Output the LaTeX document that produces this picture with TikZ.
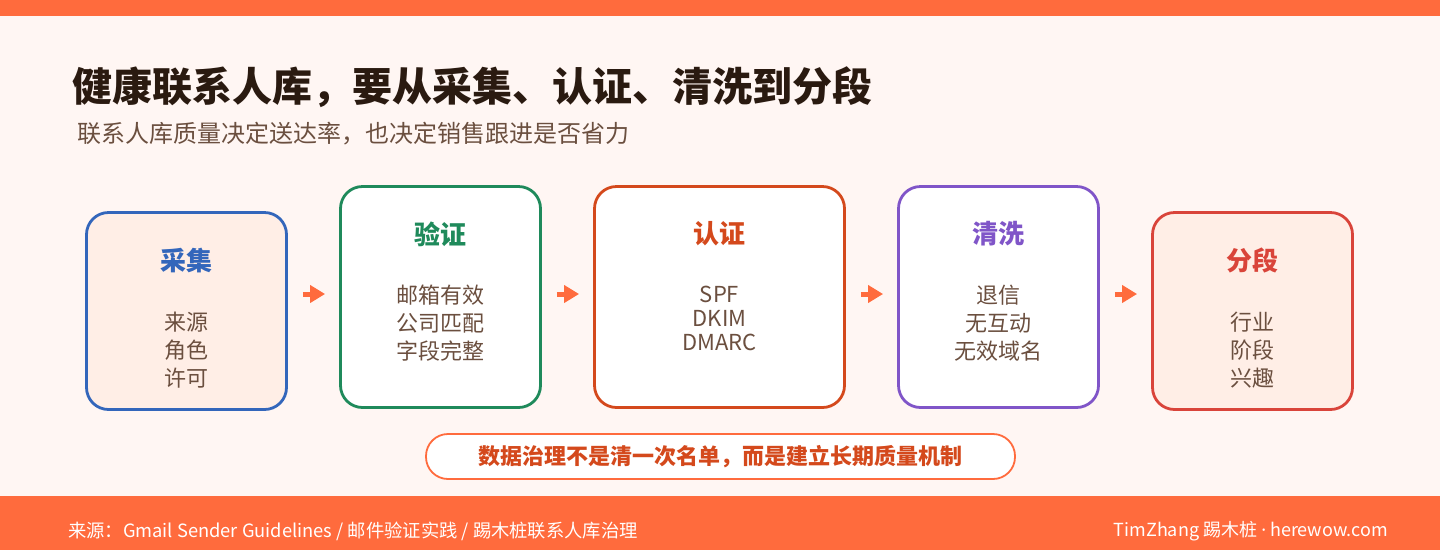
\documentclass[tikz,border=0pt]{standalone}
\usepackage{fontspec}
\setmainfont{Noto Sans CJK SC}
\newfontfamily\latinfont{Noto Sans}
\usetikzlibrary{positioning,arrows.meta}
\definecolor{bar}{HTML}{FF6B3D}
\definecolor{paper}{HTML}{FFF6F3}
\definecolor{peach}{HTML}{FFEEE6}
\definecolor{ink}{HTML}{2A1A10}
\definecolor{soft}{HTML}{6B4F3F}
\definecolor{cblue}{HTML}{3366BB}
\definecolor{cgreen}{HTML}{1F8A5B}
\definecolor{crust}{HTML}{D4491C}
\definecolor{cpurple}{HTML}{8055C8}
\definecolor{cred}{HTML}{D9443A}
\begin{document}
\begin{tikzpicture}[x=1pt,y=-1pt, line join=round,
		stage/.style={draw=#1,line width=2.8pt,rounded corners=22pt,minimum width=200pt,inner sep=0pt},
		head/.style={text=#1,font=\fontsize{26}{30}\selectfont\bfseries,inner sep=0pt},
		items/.style={text=soft,align=center,font=\fontsize{22}{28}\selectfont,inner sep=0pt},
		flow/.style={draw=bar,line width=5pt,-{Triangle[length=15pt,width=17pt]}}]
	\useasboundingbox (0,0) rectangle (1440,550);
	\fill[paper] (0,0) rectangle (1440,550);
	\fill[bar] (0,0) rectangle (1440,16);
	\fill[bar] (0,496) rectangle (1440,550);
	\node[anchor=base west,inner sep=0pt,text=ink,font=\fontsize{40}{44}\selectfont\bfseries] (title) at (72,101) {健康联系人库，要从采集、认证、清洗到分段};
	\node[anchor=base west,inner sep=0pt,text=soft,font=\fontsize{24}{28}\selectfont] (sub) at (77,142) {联系人库质量决定送达率，也决定销售跟进是否省力};
	% stages
	\node[stage=cblue,fill=peach,minimum height=197pt] (b1) at (186.5,311) {};
	\node[stage=cgreen,fill=white,minimum height=221pt] (b2) at (440.5,297) {};
	\node[stage=crust,fill=white,minimum height=221pt,minimum width=250pt] (b3) at (719.5,297) {};
	\node[stage=cpurple,fill=white,minimum height=221pt] (b4) at (998.5,297) {};
	\node[stage=cred,fill=peach,minimum height=197pt] (b5) at (1252.5,311) {};
	\node[head=cblue] (h1) at ([yshift=-49pt]b1.north) {采集};
	\node[head=cgreen] (h2) at ([yshift=-49pt]b2.north) {验证};
	\node[head=crust] (h3) at ([yshift=-49pt]b3.north) {认证};
	\node[head=cpurple] (h4) at ([yshift=-49pt]b4.north) {清洗};
	\node[head=cred] (h5) at ([yshift=-49pt]b5.north) {分段};
	\node[items] (i1) at ([yshift=-139pt]b1.north) {来源\\角色\\许可};
	\node[items] (i2) at ([yshift=-138pt]b2.north) {邮箱有效\\公司匹配\\字段完整};
	\node[items,font=\fontsize{22}{24}\selectfont] (i3) at ([yshift=-133pt]b3.north) {SPF\\DKIM\\DMARC};
	\node[items] (i4) at ([yshift=-138pt]b4.north) {退信\\无互动\\无效域名};
	\node[items] (i5) at ([yshift=-139pt]b5.north) {行业\\阶段\\兴趣};
	\coordinate (mid) at (720,294);
	\foreach \a/\b in {b1/b2,b2/b3,b3/b4,b4/b5}
		\draw[flow] ([xshift=15pt]\a.east |- mid) -- ([xshift=-14pt]\b.west |- mid);
	% note
	\node[draw=bar,fill=white,line width=1.8pt,rounded corners=22pt,minimum width=589pt,minimum height=45pt,
		text=crust,font=\fontsize{22}{24}\selectfont\bfseries] (note) at (720.5,456.5) {数据治理不是清一次名单，而是建立长期质量机制};
	\node[anchor=west,inner sep=0pt,text=white,font=\fontsize{18.3}{20}\selectfont] (src) at (68,531) {来源：Gmail Sender Guidelines / 邮件验证实践 / 踢木桩联系人库治理};
	\node[anchor=east,inner sep=0pt,text=white,font=\fontsize{18}{20}\selectfont] (sign) at (1388,531) {TimZhang 踢木桩 {\latinfont·} herewow.com};
\end{tikzpicture}
\end{document}
